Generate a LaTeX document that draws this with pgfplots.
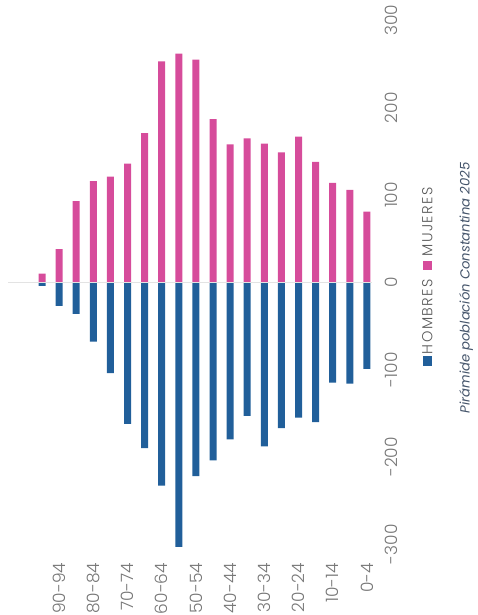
\documentclass[border=0pt]{standalone}
\usepackage{pgfplots}
\pgfplotsset{compat=1.18}
\usepackage{pgfplotstable}
\usepackage{fontspec}
\setmainfont{Poppins}
\newfontfamily\lightfont{Poppins Light}
\newfontfamily\legfont{Poppins Light}[LetterSpace=10]

\definecolor{mujer}{RGB}{214,76,155}
\definecolor{hombre}{RGB}{33,95,154}
\definecolor{ticktxt}{RGB}{118,118,118}
\definecolor{legtxt}{RGB}{89,89,89}
\definecolor{titletxt}{RGB}{68,84,106}

% idx: 0 = 95+ ... 19 = 0-4
\pgfplotstableread{
idx grupo mujeres hombres
0  95+    10   -4
1  90-94  38  -27
2  85-89  93  -36
3  80-84 116  -68
4  75-79 121 -104
5  70-74 136 -162
6  65-69 171 -190
7  60-64 253 -233
8  55-59 262 -303
9  50-54 255 -222
10 45-49 187 -204
11 40-44 158 -180
12 35-39 165 -153
13 30-34 159 -188
14 25-29 149 -167
15 20-24 167 -155
16 15-19 138 -160
17 10-14 114 -115
18 5-9   106 -116
19 0-4    81  -99
}\piramide

\begin{document}
\begin{tikzpicture}
\begin{axis}[
  name=ax, at={(0,0)}, anchor=south west,
  x=17.1pt, y=0.873pt,
  xmin=-2, xmax=19.3, ymin=-320, ymax=320,
  clip=false,
  axis line style={draw=none}, tick style={draw=none},
  xtick={1,3,...,19},
  xticklabels={90-94,80-84,70-74,60-64,50-54,40-44,30-34,20-24,10-14,0-4},
  ytick={-300,-200,...,300},
  yticklabel pos=right,
  /pgf/number format/assume math mode=true,
  x tick label style={rotate=90, anchor=east, inner sep=0pt,
    font=\lightfont\fontsize{17}{17}\selectfont, text=ticktxt},
  xticklabel shift=1pt,
  y tick label style={rotate=90, anchor=north, inner sep=0pt,
    font=\lightfont\fontsize{17}{17}\selectfont, text=ticktxt},
  yticklabel shift=13pt,
]
\addplot[ybar, bar width=7pt, bar shift=0pt, fill=hombre, draw=none]
  table[x=idx, y=hombres]{\piramide};
\addplot[ybar, bar width=7pt, bar shift=0pt, fill=mujer, draw=none]
  table[x=idx, y=mujeres]{\piramide};
\addplot[draw=gray!22, line width=1.6pt, forget plot] coordinates {(-2,0) (19.3,0)};
% leyenda girada
\node[rotate=90, inner sep=0pt, font=\legfont\fontsize{14.5}{14.5}\selectfont, text=legtxt]
  at (rel axis cs:1.152,0.5104)
  {{\color{hombre}\rule{9.5pt}{9.5pt}}\hspace{2pt}HOMBRES\hspace{9pt}{\color{mujer}\rule{9.5pt}{9.5pt}}\hspace{4pt}MUJERES};
\node[rotate=90, font=\itshape\fontsize{13.2}{13.2}\selectfont, text=titletxt]
  at (rel axis cs:1.258,0.49) {Pirámide población Constantina 2025};
\end{axis}
\pgfresetboundingbox
\path[use as bounding box] (ax.south west) ++(-7.8pt,-53.3pt) rectangle ++(477pt,615pt);
\end{tikzpicture}
\end{document}
